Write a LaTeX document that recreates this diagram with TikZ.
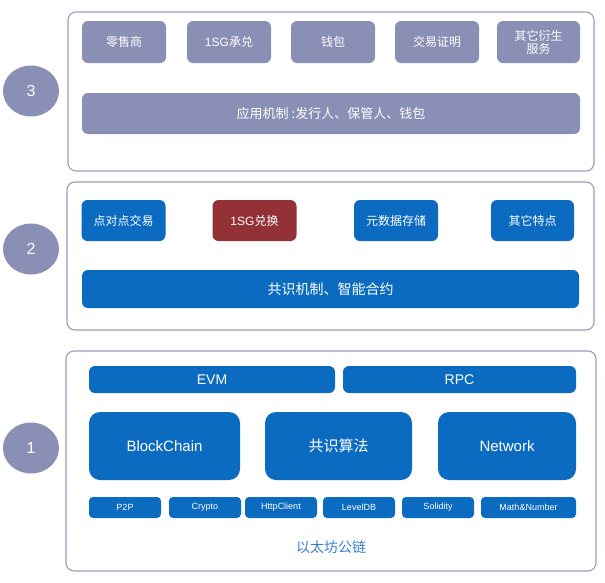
\documentclass[tikz,border=0pt]{standalone}
\usepackage{fontspec}
\setmainfont{Liberation Sans}
\newfontfamily\cjk{Noto Sans CJK SC}
\newfontfamily\lat{Liberation Sans}
\usetikzlibrary{shapes.geometric}
\definecolor{lav}{HTML}{8A8FB5}
\definecolor{lavline}{HTML}{9A9CC0}
\definecolor{blu}{HTML}{0B6BC0}
\definecolor{blutext}{HTML}{3A7FD5}
\definecolor{wine}{HTML}{943137}
\tikzset{
  layerbox/.style={draw=lavline, line width=1.1pt, rounded corners=8pt, inner sep=0pt},
  lavbox/.style={fill=lav, rounded corners=6pt, inner sep=0pt, text=white, font=\cjk\fontsize{12}{13}\selectfont, align=center},
  blubox/.style={fill=blu, rounded corners=6pt, inner sep=0pt, text=white, font=\cjk\fontsize{12}{13}\selectfont, align=center},
  bigbox/.style={fill=blu, rounded corners=11pt, inner sep=0pt, text=white, font=\lat\fontsize{15}{17}\selectfont},
  tinybox/.style={fill=blu, rounded corners=4pt, inner sep=0pt, text=white, font=\lat\fontsize{9}{10}\selectfont, minimum width=72pt, minimum height=21pt},
  num/.style={ellipse, fill=lav, inner sep=0pt, minimum width=56pt, minimum height=51pt, text=white, font=\lat\fontsize{16}{18}\selectfont}
}
\begin{document}
\begin{tikzpicture}[x=1pt,y=-1pt]
\useasboundingbox (0,0) rectangle (605,582);
% layer frames
\node[layerbox, minimum width=526pt, minimum height=159pt] (L3) at (331,91.5) {};
\node[layerbox, minimum width=527pt, minimum height=148pt] (L2) at (330.5,256) {};
\node[layerbox, minimum width=530pt, minimum height=220pt] (L1) at (331,461) {};
% numbers
\node[num] (n3) at (31,91) {3};
\node[num] (n2) at (31,249) {2};
\node[num] (n1) at (31,448) {1};
% layer 3
\node[lavbox, minimum width=84pt, minimum height=42pt] (a1) at (124,42) {零售商};
\node[lavbox, minimum width=84pt, minimum height=42pt] (a2) at (229,42) {{\lat 1SG}承兑};
\node[lavbox, minimum width=84pt, minimum height=42pt] (a3) at (333,42) {钱包};
\node[lavbox, minimum width=84pt, minimum height=42pt] (a4) at (437,42) {交易证明};
\node[lavbox, minimum width=83pt, minimum height=42pt] (a5) at (538.5,42) {其它衍生\\服务};
\node[lavbox, minimum width=498pt, minimum height=41pt, font=\cjk\fontsize{13}{15}\selectfont] (a6) at (331,113.5) {应用机制 :发行人、保管人、钱包};
% layer 2
\node[blubox, minimum width=84pt, minimum height=41pt] (b1) at (123.5,220.5) {点对点交易};
\node[blubox, fill=wine, minimum width=84pt, minimum height=41pt] (b2) at (254.5,220.5) {{\lat 1SG}兑换};
\node[blubox, minimum width=84pt, minimum height=41pt] (b3) at (396,220.5) {元数据存储};
\node[blubox, minimum width=83pt, minimum height=41pt] (b4) at (532.5,220.5) {其它特点};
\node[blubox, minimum width=497pt, minimum height=38pt, font=\cjk\fontsize{14}{16}\selectfont] (b5) at (330.5,289) {共识机制、智能合约};
% layer 1
\node[blubox, minimum width=246pt, minimum height=27pt, font=\lat\fontsize{14}{16}\selectfont] (c1) at (212,379.5) {EVM};
\node[blubox, minimum width=233pt, minimum height=27pt, font=\lat\fontsize{14}{16}\selectfont] (c2) at (459.5,379.5) {RPC};
\node[bigbox, minimum width=151pt, minimum height=68pt] (d1) at (164.5,446) {BlockChain};
\node[bigbox, minimum width=147pt, minimum height=68pt, font=\cjk\fontsize{15}{17}\selectfont] (d2) at (338.5,446) {共识算法};
\node[bigbox, minimum width=138pt, minimum height=68pt] (d3) at (507,446) {Network};
\node[tinybox] (e1) at (125,507.5) {P2P};
\node[tinybox] (e2) at (205,507.5) {Crypto};
\node[tinybox] (e3) at (281,507.5) {HttpClient};
\node[tinybox] (e4) at (359,507.5) {LevelDB};
\node[tinybox] (e5) at (438,507.5) {Solidity};
\node[tinybox, minimum width=95pt] (e6) at (528.5,507.5) {Math\&Number};
\node[text=blutext, font=\cjk\fontsize{14}{16}\selectfont] (t1) at (331,547) {以太坊公链};
\end{tikzpicture}
\end{document}
